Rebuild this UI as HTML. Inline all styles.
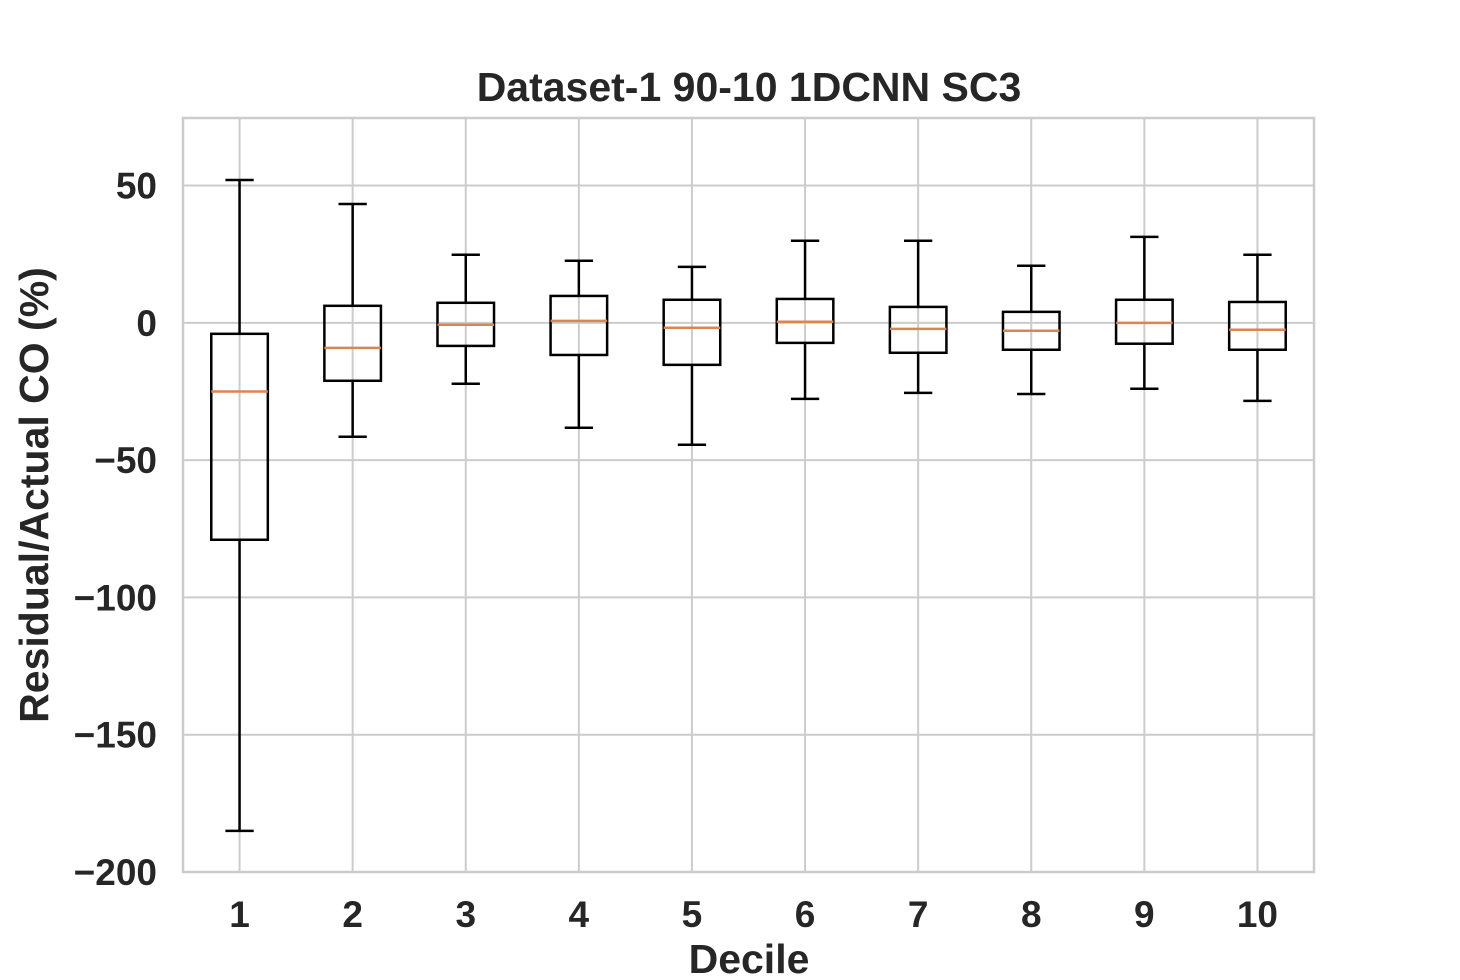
<!DOCTYPE html>
<html><head><meta charset="utf-8">
<style>
body{margin:0;background:#fff;}
svg text{font-family:"Liberation Sans",Arial,sans-serif;font-weight:bold;fill:#262626;}
</style></head>
<body>
<svg id="chart" width="1460" height="980" xmlns="http://www.w3.org/2000/svg" style="position:absolute;left:0;top:0">
<g id="grid"></g>
<g id="boxes"></g>
<g id="axes"></g>
<text x="749" y="101" text-anchor="middle" font-size="41">Dataset-1 90-10 1DCNN SC3</text>
<text x="749" y="973" text-anchor="middle" font-size="41">Decile</text>
<text transform="translate(48,495) rotate(-90)" text-anchor="middle" font-size="41">Residual/Actual CO (%)</text>
</svg>
<script>
const deciles = [1,2,3,4,5,6,7,8,9,10];
const whiskerHigh = [52, 43.3, 24.8, 22.6, 20.4, 29.9, 29.9, 20.8, 31.3, 24.8];
const q3Values = [-4, 6.2, 7.3, 9.8, 8.4, 8.7, 5.8, 4, 8.4, 7.6];
const medianValues = [-25, -9.1, -0.7, 0.7, -1.8, 0.4, -2.2, -2.9, 0, -2.5];
const q1Values = [-79, -21.1, -8.4, -11.7, -15.3, -7.3, -10.9, -9.8, -7.6, -9.8];
const whiskerLow = [-185, -41.5, -22.2, -38.2, -44.4, -27.7, -25.5, -25.9, -24, -28.4];
const yTicks = [50, 0, -50, -100, -150, -200];
const yTickLabels = ["50","0","\u221250","\u2212100","\u2212150","\u2212200"];

const L=183,R=1314,T=118,B=872;
const yMin=-200,yMax=74.6,xMin=0.5,xMax=10.5;
const ys=v=>B-(v-yMin)/(yMax-yMin)*(B-T);
const xs=v=>L+(v-xMin)/(xMax-xMin)*(R-L);
const NS="http://www.w3.org/2000/svg";
function mk(parent,tag,attrs){const e=document.createElementNS(NS,tag);for(const k in attrs)e.setAttribute(k,attrs[k]);parent.appendChild(e);return e;}
const grid=document.getElementById('grid'),boxes=document.getElementById('boxes'),axes=document.getElementById('axes');

yTicks.forEach((t,i)=>{
  const g=mk(grid,'line',{x1:L,x2:R,y1:ys(t),y2:ys(t),stroke:'#cccccc','stroke-width':2});
  
  
  const tx=mk(axes,'text',{x:L-26,y:ys(t)+13,'text-anchor':'end','font-size':37});
  tx.textContent=yTickLabels[i];
  
  
});
deciles.forEach(d=>{
  const g=mk(grid,'line',{x1:xs(d),x2:xs(d),y1:T,y2:B,stroke:'#cccccc','stroke-width':2});
  
  
  const tx=mk(axes,'text',{x:xs(d),y:B+55,'text-anchor':'middle','font-size':37});
  tx.textContent=String(d);
  
  
});
const frame=mk(axes,'rect',{x:L,y:T,width:R-L,height:B-T,fill:'none',stroke:'#cccccc','stroke-width':2.5});



const bw=(xs(1.25)-xs(1));
deciles.forEach((d,i)=>{
  const cx=xs(d);
  const g=mk(boxes,'g',{});
  
  
  const st={stroke:'#000','stroke-width':2.5,fill:'none'};
  mk(g,'line',Object.assign({x1:cx,x2:cx,y1:ys(whiskerHigh[i]),y2:ys(q3Values[i])},st));
  mk(g,'line',Object.assign({x1:cx,x2:cx,y1:ys(q1Values[i]),y2:ys(whiskerLow[i])},st));
  mk(g,'line',Object.assign({x1:cx-bw/2,x2:cx+bw/2,y1:ys(whiskerHigh[i]),y2:ys(whiskerHigh[i])},st));
  mk(g,'line',Object.assign({x1:cx-bw/2,x2:cx+bw/2,y1:ys(whiskerLow[i]),y2:ys(whiskerLow[i])},st));
  mk(g,'rect',Object.assign({x:cx-bw,y:ys(q3Values[i]),width:2*bw,height:ys(q1Values[i])-ys(q3Values[i])},st));
  mk(g,'line',{x1:cx-bw,x2:cx+bw,y1:ys(medianValues[i]),y2:ys(medianValues[i]),stroke:'#dd8452','stroke-width':2.5});
});
</script>
</body></html>
